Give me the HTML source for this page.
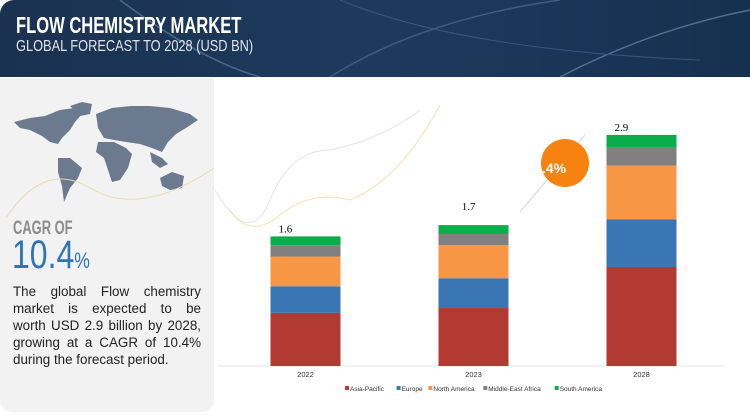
<!DOCTYPE html>
<html><head><meta charset="utf-8">
<style>
body{margin:0;width:750px;height:415px;overflow:hidden;background:#fff;font-family:"Liberation Sans",sans-serif;position:relative}
#banner{position:absolute;left:0;top:0;width:750px;height:77px;background:linear-gradient(90deg,#1b3150,#1d3a5e 50%,#16304f);border-top-left-radius:14px;overflow:hidden}
#banner h1{position:absolute;left:16px;top:12px;margin:0;color:#fff;font:bold 23px "Liberation Sans",sans-serif;transform:scaleX(0.72);transform-origin:0 0;white-space:nowrap}
#banner h2{position:absolute;left:16px;top:38px;margin:0;color:#dfe6ee;font:16px "Liberation Sans",sans-serif;transform:scaleX(0.8);transform-origin:0 0;white-space:nowrap}
#left{position:absolute;left:0;top:78px;width:214px;height:334px;background:#f2f2f2;border-bottom-left-radius:12px;border-bottom-right-radius:12px}
#cagr-of{position:absolute;left:13px;top:140px;color:#8c8c8c;font:bold 19px "Liberation Sans",sans-serif;transform:scaleX(0.68);transform-origin:0 0;white-space:nowrap}
#cagr-val{position:absolute;left:12px;top:155px;color:#2e75b6;font:40px "Liberation Sans",sans-serif;transform:scaleX(0.8);transform-origin:0 0;white-space:nowrap}
#cagr-val span{font-size:22px}
#desc{position:absolute;left:13px;top:205px;width:188px;font-size:13.4px;line-height:17px;color:#222}
#desc div{text-align:justify;text-align-last:justify;white-space:nowrap;overflow:visible}
#desc div.last{text-align-last:left}
</style></head><body>
<div id="banner">
<svg width="750" height="77" style="position:absolute;left:0;top:0">
<path d="M120 0 Q200 60 260 77" stroke="#4a6a8a" fill="none" stroke-width="1.5"/>
<path d="M330 77 Q420 20 560 0" stroke="#3d5d80" fill="none" stroke-width="1.5"/>
<path d="M560 77 Q650 30 750 10" stroke="#4f6f90" fill="none" stroke-width="1.5"/>
<path d="M340 0 Q460 50 700 60" stroke="#36587c" fill="none" stroke-width="1"/>
</svg>
<h1>FLOW CHEMISTRY MARKET</h1>
<h2>GLOBAL FORECAST TO 2028 (USD BN)</h2>
</div>
<div id="left">
<svg width="214" height="140" style="position:absolute;left:0;top:0">
<g fill="#6b7a8f">
<path d="M14 44 L30 40 L45 38 L60 32 L75 30 L82 36 L75 44 L70 52 L62 60 L58 66 L50 64 L42 58 L30 52 L20 50 Z"/>
<path d="M70 28 L82 24 L92 26 L90 36 L80 38 Z"/>
<path d="M58 80 L70 80 L82 90 L78 100 L70 110 L64 124 L62 108 L58 94 Z"/>
<path d="M96 36 L112 30 L130 28 L150 28 L170 30 L190 36 L198 42 L186 50 L176 56 L168 64 L162 74 L152 70 L140 66 L126 64 L114 62 L104 60 L98 50 Z"/>
<path d="M98 64 L114 64 L126 70 L132 76 L128 90 L120 102 L112 104 L108 92 L104 80 L96 74 Z"/>
<path d="M160 100 L172 94 L184 98 L182 110 L170 112 L162 108 Z"/>
<path d="M150 74 L162 80 L168 86 L160 90 L152 84 Z"/>
</g>
<path d="M0 150 Q40 80 90 110 T214 90" stroke="#e8dcb0" fill="none"/>
</svg>
<div id="cagr-of">CAGR OF</div>
<div id="cagr-val">10.4<span>%</span></div>
<div id="desc">
<div>The global Flow chemistry</div>
<div>market is expected to be</div>
<div>worth USD 2.9 billion by 2028,</div>
<div>growing at a CAGR of 10.4%</div>
<div class="last">during the forecast period.</div>
</div>
</div>
<svg id="chart" width="750" height="415" style="position:absolute;left:0;top:0">
<path d="M215 190 Q250 250 270 200 T330 150 Q380 140 420 110" stroke="#e4e4e4" fill="none"/>
<path d="M230 210 Q250 240 280 215 T350 200 Q400 180 440 105" stroke="#f1e2b0" fill="none"/>
<line x1="520" y1="212" x2="585" y2="135" stroke="#cfd6de" stroke-width="1"/>
<circle cx="565" cy="163" r="24" fill="#f7820f"/>
<text x="542" y="173" fill="#fff" font-size="14" font-weight="bold" font-family="Liberation Sans">.4%</text>
<line x1="218" y1="366" x2="725" y2="366" stroke="#e6e6e6"/>
<g id="bars"></g>
<g id="legend"></g>
</svg>
<script>
const categories=["2022","2023","2028"];
const totals=["1.6","1.7","2.9"];
const seriesNames=["Asia-Pacific","Europe","North America","Middle-East Africa","South America"];
const asiaPacific=[0.66,0.72,1.23];
const europe=[0.33,0.37,0.59];
const northAmerica=[0.37,0.41,0.67];
const middleEastAfrica=[0.14,0.14,0.22];
const southAmerica=[0.11,0.11,0.16];
const colors=["#b33a32","#3a76b4","#f79645","#808080","#0aad4b"];
const series=[asiaPacific,europe,northAmerica,middleEastAfrica,southAmerica];
const NS="http://www.w3.org/2000/svg";
const base=366,pxPerUnit=80.5,barW=70;
const xC=i=>305.5+i*168;
const y=v=>base-v*pxPerUnit;
const g=document.getElementById('bars');
categories.forEach((c,i)=>{
  let acc=0;
  series.forEach((s,k)=>{
    const r=document.createElementNS(NS,'rect');
    r.setAttribute('x',xC(i)-barW/2);r.setAttribute('width',barW);
    r.setAttribute('y',y(acc+s[i]));r.setAttribute('height',s[i]*pxPerUnit);
    r.setAttribute('fill',colors[k]);
    
    
    g.appendChild(r);acc+=s[i];
  });
  const t=document.createElementNS(NS,'text');
  t.setAttribute('x',xC(i)-(i==0?27:i==1?-2:27));t.setAttribute('y',i==1?y(acc)-15:y(acc)-4);
  t.setAttribute('font-size','11');t.setAttribute('font-family','Liberation Serif');
  t.setAttribute('text-anchor',i==1?'end':'start');t.textContent=totals[i];
  
  
  g.appendChild(t);
  const xl=document.createElementNS(NS,'text');
  xl.setAttribute('x',xC(i));xl.setAttribute('y',377);xl.setAttribute('font-size','7.5');
  xl.setAttribute('text-anchor','middle');xl.setAttribute('fill','#333');xl.textContent=c;
  
  
  g.appendChild(xl);
});
const lg=document.getElementById('legend');
let lx=345;
seriesNames.forEach((n,k)=>{
  const r=document.createElementNS(NS,'rect');
  r.setAttribute('x',lx);r.setAttribute('y',386);r.setAttribute('width',4);r.setAttribute('height',4);r.setAttribute('fill',colors[k]);
  
  
  lg.appendChild(r);
  const t=document.createElementNS(NS,'text');
  t.setAttribute('x',lx+5);t.setAttribute('y',391);t.setAttribute('font-size','6.5');t.setAttribute('fill','#333');t.textContent=n;
  
  
  lg.appendChild(t);
  lx+=n.length*3.3+12;
});
</script>
</body></html>
